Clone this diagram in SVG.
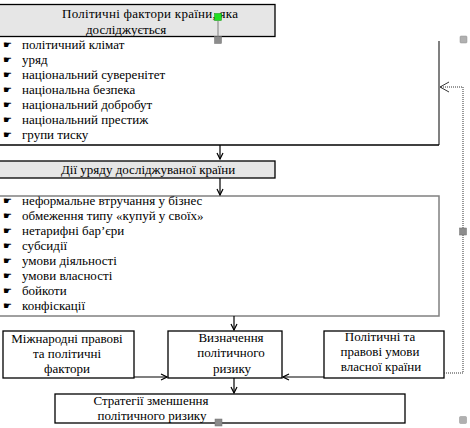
<svg xmlns="http://www.w3.org/2000/svg" width="470" height="428" viewBox="0 0 470 428">
<style>
text{font-family:"Liberation Serif","Times New Roman",serif;font-size:13px;fill:#000}
.b{font-family:"DejaVu Sans",sans-serif;font-size:10px}
.hdr{fill:#e6e6e6;stroke:#000;stroke-width:1.3}
.box{fill:#fff;stroke:#000;stroke-width:1.3}
.gbox{fill:#fff;stroke:#808080;stroke-width:1.5}
.c{fill:none;stroke:#000;stroke-width:1.2}
.m{text-anchor:middle}
.h{fill:#8c8c8c;stroke:#707070;stroke-width:0.5}
.hl{fill:#b0b0b0;stroke:#909090;stroke-width:0.5}
</style>
<defs>
<marker id="ah" markerWidth="8" markerHeight="8" refX="7" refY="4" orient="auto" markerUnits="userSpaceOnUse">
<path d="M1,1 L7,4 L1,7" fill="none" stroke="#000" stroke-width="1.2"/>
</marker>
<marker id="ao" markerWidth="12" markerHeight="12" refX="10" refY="6" orient="auto" markerUnits="userSpaceOnUse">
<path d="M1,1 L10,6 L1,11" fill="none" stroke="#000" stroke-width="0.8"/>
</marker>
</defs>

<g id="factors-list">
<path d="M439,41 L439,145" fill="none" stroke="#808080" stroke-width="2"/>
<path d="M-1,145 L439,145" fill="none" stroke="#000" stroke-width="1.3"/>
<text class="b" x="3" y="48">☛</text><text x="22" y="49">політичний клімат</text>
<text class="b" x="3" y="63">☛</text><text x="22" y="64">уряд</text>
<text class="b" x="3" y="78">☛</text><text x="22" y="79">національний суверенітет</text>
<text class="b" x="3" y="93">☛</text><text x="22" y="94">національна безпека</text>
<text class="b" x="3" y="108">☛</text><text x="22" y="109">національний добробут</text>
<text class="b" x="3" y="123">☛</text><text x="22" y="124">національний престиж</text>
<text class="b" x="3" y="138">☛</text><text x="22" y="139">групи тиску</text>
</g>

<g id="factors-header">
<rect class="hdr" x="-2" y="4.5" width="277" height="32"/>
<text x="62" y="18" textLength="176">Політичні фактори країни, яка</text>
<text x="86" y="34">досліджується</text>
</g>

<g id="gov-header">
<rect class="hdr" x="-2" y="161" width="277" height="17"/>
<text x="61" y="174">Дії уряду досліджуваної країни</text>
</g>

<g id="gov-list">
<rect class="gbox" x="-2" y="196" width="441" height="120"/>
<text class="b" x="3" y="204">☛</text><text x="22" y="205">неформальне втручання у бізнес</text>
<text class="b" x="3" y="219">☛</text><text x="22" y="220">обмеження типу «купуй у своїх»</text>
<text class="b" x="3" y="234">☛</text><text x="22" y="235">нетарифні бар’єри</text>
<text class="b" x="3" y="249">☛</text><text x="22" y="250">субсидії</text>
<text class="b" x="3" y="264">☛</text><text x="22" y="265">умови діяльності</text>
<text class="b" x="3" y="279">☛</text><text x="22" y="280">умови власності</text>
<text class="b" x="3" y="294">☛</text><text x="22" y="295">бойкоти</text>
<text class="b" x="3" y="309">☛</text><text x="22" y="310">конфіскації</text>
</g>

<g id="intl">
<rect class="box" x="3" y="331" width="131" height="47"/>
<text class="m" x="67" y="343">Міжнародні правові</text>
<text class="m" x="67" y="358">та політичні</text>
<text class="m" x="67" y="373">фактори</text>
</g>

<g id="risk">
<rect class="box" x="168" y="331" width="114" height="47"/>
<text class="m" x="231" y="342">Визначення</text>
<text class="m" x="231" y="357">політичного</text>
<text class="m" x="232" y="373">ризику</text>
</g>

<g id="own">
<rect class="box" x="324" y="331" width="120" height="47"/>
<text class="m" x="380" y="341">Політичні та</text>
<text class="m" x="380" y="356">правові умови</text>
<text class="m" x="381" y="371">власної країни</text>
</g>

<g id="strategy">
<rect class="box" x="55" y="394" width="350" height="29"/>
<text class="m" x="151" y="405">Стратегії зменшення</text>
<text class="m" x="152" y="420">політичного ризику</text>
</g>

<g id="connectors">
<path class="c" d="M220,145 L220,159" marker-end="url(#ah)"/>
<path class="c" d="M220,178 L220,195" marker-end="url(#ah)"/>
<path class="c" d="M234,316 L234,330" marker-end="url(#ah)"/>
<path class="c" d="M134,377 L167,377" marker-end="url(#ah)"/>
<path class="c" d="M324,377 L283,377" marker-end="url(#ah)"/>
<path class="c" d="M234,378 L234,393" marker-end="url(#ah)"/>
<path d="M444,373 L463,373 L463,87 L440,87" fill="none" stroke="#333" stroke-width="1" stroke-dasharray="1,1" marker-end="url(#ao)"/>
</g>

<g id="handles">
<line x1="218" y1="21" x2="218" y2="37" stroke="#808080" stroke-width="1"/>
<rect x="214.5" y="13.5" width="7" height="7" fill="#22e022" stroke="#109010" stroke-width="0.5"/>
<rect class="h" x="214.5" y="36.5" width="7" height="7"/>
<rect class="hl" x="460" y="36" width="7" height="7" rx="1"/>
<rect class="h" x="459.5" y="228" width="7" height="7"/>
<rect class="hl" x="459.5" y="416.5" width="7" height="7" rx="1"/>
<rect class="h" x="215" y="419" width="7" height="7"/>
</g>
</svg>
